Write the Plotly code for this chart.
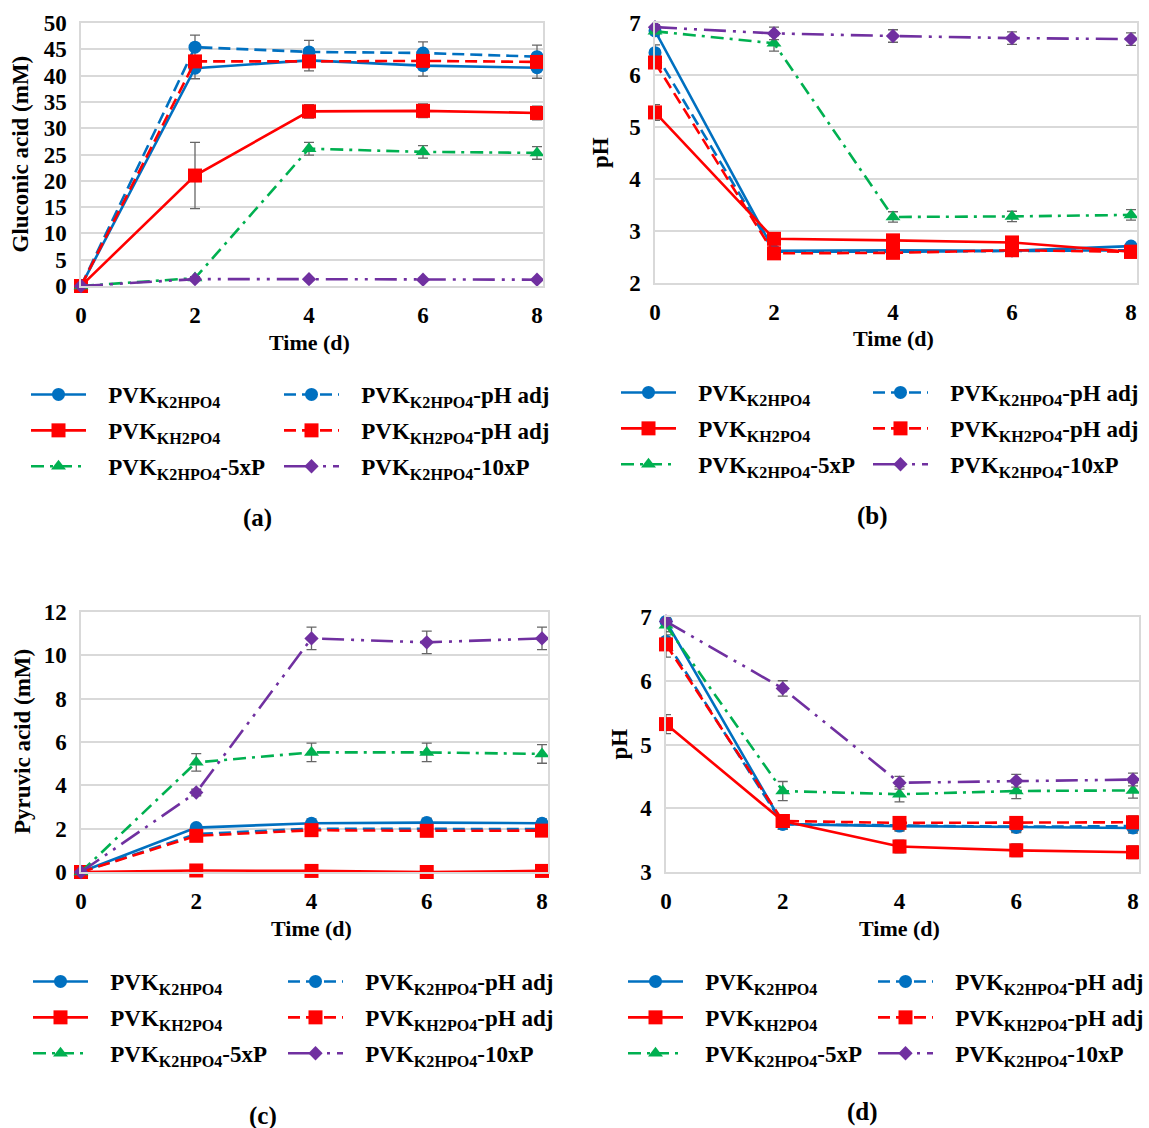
import plotly.graph_objects as go

W, H = 1149, 1128

# ---------------- data ----------------
time_d = [0, 2, 4, 6, 8]
series_names = [
    "PVK<sub>K2HPO4</sub>",
    "PVK<sub>K2HPO4</sub>-pH adj",
    "PVK<sub>KH2PO4</sub>",
    "PVK<sub>KH2PO4</sub>-pH adj",
    "PVK<sub>K2HPO4</sub>-5xP",
    "PVK<sub>K2HPO4</sub>-10xP",
]

# (a) gluconic acid (mM)
glu_k2hpo4 = [0.0, 41.4, 42.9, 41.9, 41.5]
glu_k2hpo4_adj = [0.0, 45.4, 44.5, 44.3, 43.6]
glu_kh2po4 = [0.0, 21.0, 33.2, 33.3, 32.9]
glu_kh2po4_adj = [0.0, 42.7, 42.7, 42.8, 42.6]
glu_5xp = [0.0, 1.5, 26.1, 25.5, 25.3]
glu_10xp = [0.0, 1.3, 1.3, 1.2, 1.2]
glu_err_k2hpo4 = [0.0, 2.0, 2.0, 2.0, 2.0]
glu_err_k2hpo4_adj = [0.0, 2.3, 2.2, 2.1, 2.2]
glu_err_kh2po4 = [0.0, 6.3, 1.3, 1.3, 1.3]
glu_err_kh2po4_adj = [0.0, 0.5, 0.5, 0.5, 0.5]
glu_err_5xp = [0.0, 0.3, 1.2, 1.2, 1.2]
glu_err_10xp = [0.0, 0.2, 0.2, 0.2, 0.2]

# (b) pH (gluconic experiment)
phb_k2hpo4 = [6.85, 2.62, 2.63, 2.62, 2.71]
phb_k2hpo4_adj = [6.43, 2.60, 2.60, 2.62, 2.63]
phb_kh2po4 = [5.28, 2.85, 2.82, 2.78, 2.60]
phb_kh2po4_adj = [6.24, 2.57, 2.58, 2.63, 2.60]
phb_5xp = [6.84, 6.61, 3.27, 3.28, 3.31]
phb_10xp = [6.92, 6.80, 6.75, 6.71, 6.69]
phb_err_k2hpo4 = [0.10, 0.05, 0.05, 0.05, 0.05]
phb_err_k2hpo4_adj = [0.15, 0.05, 0.05, 0.05, 0.05]
phb_err_kh2po4 = [0.15, 0.05, 0.05, 0.05, 0.05]
phb_err_kh2po4_adj = [0.10, 0.05, 0.05, 0.05, 0.05]
phb_err_5xp = [0.05, 0.15, 0.10, 0.10, 0.10]
phb_err_10xp = [0.05, 0.12, 0.12, 0.12, 0.12]

# (c) pyruvic acid (mM)
pyr_k2hpo4 = [0.0, 2.05, 2.25, 2.28, 2.25]
pyr_k2hpo4_adj = [0.0, 1.75, 2.00, 2.00, 1.98]
pyr_kh2po4 = [0.0, 0.07, 0.05, 0.0, 0.05]
pyr_kh2po4_adj = [0.0, 1.67, 1.93, 1.90, 1.91]
pyr_5xp = [0.0, 5.06, 5.52, 5.52, 5.45]
pyr_10xp = [0.0, 3.67, 10.78, 10.60, 10.78]
pyr_err_k2hpo4 = [0.0, 0.10, 0.20, 0.20, 0.20]
pyr_err_k2hpo4_adj = [0.0, 0.10, 0.10, 0.10, 0.10]
pyr_err_kh2po4 = [0.0, 0.02, 0.02, 0.02, 0.02]
pyr_err_kh2po4_adj = [0.0, 0.10, 0.10, 0.10, 0.10]
pyr_err_5xp = [0.0, 0.40, 0.43, 0.43, 0.43]
pyr_err_10xp = [0.0, 0.15, 0.52, 0.52, 0.52]

# (d) pH (pyruvic experiment)
phd_k2hpo4 = [6.93, 3.75, 3.72, 3.70, 3.69]
phd_k2hpo4_adj = [6.62, 3.75, 3.73, 3.71, 3.72]
phd_kh2po4 = [5.32, 3.80, 3.40, 3.34, 3.31]
phd_kh2po4_adj = [6.57, 3.80, 3.77, 3.77, 3.78]
phd_5xp = [6.87, 4.27, 4.22, 4.27, 4.28]
phd_10xp = [6.93, 5.88, 4.40, 4.43, 4.45]
phd_err_k2hpo4 = [0.05, 0.08, 0.08, 0.08, 0.08]
phd_err_k2hpo4_adj = [0.10, 0.08, 0.08, 0.08, 0.08]
phd_err_kh2po4 = [0.15, 0.10, 0.10, 0.10, 0.10]
phd_err_kh2po4_adj = [0.20, 0.10, 0.10, 0.10, 0.10]
phd_err_5xp = [0.10, 0.15, 0.12, 0.12, 0.12]
phd_err_10xp = [0.05, 0.12, 0.10, 0.10, 0.10]

# ---------------- styles ----------------
colors = ["#0070C0", "#0070C0", "#FF0000", "#FF0000", "#00B050", "#7030A0"]
dashes = ["solid", "12px,6px", "solid", "12px,6px", "13px,6px,3px,6px", "22px,7px,3px,7px,3px,7px"]
symbols = ["circle", "circle", "square", "square", "triangle-up", "diamond"]
msizes = [13, 13, 14, 14, 13, 11]

FONT = "Liberation Serif"
PAD = "\u00a0\u00a0\u00a0"

panels = [
    dict(ys=[glu_k2hpo4, glu_k2hpo4_adj, glu_kh2po4, glu_kh2po4_adj, glu_5xp, glu_10xp],
         es=[glu_err_k2hpo4, glu_err_k2hpo4_adj, glu_err_kh2po4, glu_err_kh2po4_adj, glu_err_5xp, glu_err_10xp],
         px=(81, 537), py=(23, 286), yr=(0, 50), dt=5, ytitle="Gluconic acid (mM)",
         ytx=20, xty=342, lab="(a)", labxy=(257, 518), leg=((26, 373), (279, 373))),
    dict(ys=[phb_k2hpo4, phb_k2hpo4_adj, phb_kh2po4, phb_kh2po4_adj, phb_5xp, phb_10xp],
         es=[phb_err_k2hpo4, phb_err_k2hpo4_adj, phb_err_kh2po4, phb_err_kh2po4_adj, phb_err_5xp, phb_err_10xp],
         px=(655, 1131), py=(23, 283), yr=(2, 7), dt=1, ytitle="pH",
         ytx=601, xty=339, lab="(b)", labxy=(872, 516), leg=((616, 371), (868, 371))),
    dict(ys=[pyr_k2hpo4, pyr_k2hpo4_adj, pyr_kh2po4, pyr_kh2po4_adj, pyr_5xp, pyr_10xp],
         es=[pyr_err_k2hpo4, pyr_err_k2hpo4_adj, pyr_err_kh2po4, pyr_err_kh2po4_adj, pyr_err_5xp, pyr_err_10xp],
         px=(81, 542), py=(612, 872), yr=(0, 12), dt=2, ytitle="Pyruvic acid (mM)",
         ytx=22, xty=928, lab="(c)", labxy=(263, 1116), leg=((28, 960), (283, 960))),
    dict(ys=[phd_k2hpo4, phd_k2hpo4_adj, phd_kh2po4, phd_kh2po4_adj, phd_5xp, phd_10xp],
         es=[phd_err_k2hpo4, phd_err_k2hpo4_adj, phd_err_kh2po4, phd_err_kh2po4_adj, phd_err_5xp, phd_err_10xp],
         px=(666, 1133), py=(617, 872), yr=(3, 7), dt=1, ytitle="pH",
         ytx=619, xty=928, lab="(d)", labxy=(862, 1112), leg=((623, 960), (873, 960))),
]

fig = go.Figure()
annotations = []
layout_upd = {}

for pi, p in enumerate(panels):
    n = pi + 1
    xa = "x" if n == 1 else f"x{n}"
    ya = "y" if n == 1 else f"y{n}"
    xkey = "xaxis" if n == 1 else f"xaxis{n}"
    ykey = "yaxis" if n == 1 else f"yaxis{n}"
    leg_a = "legend" if n == 1 else f"legend{2 * n - 1}"
    leg_b = f"legend{2 * n}"

    x0, x8 = p["px"]
    ppu = (x8 - x0) / 8.0
    xmax = 8.1
    right = x0 + ppu * xmax
    ytop, ybot = p["py"]

    layout_upd[xkey] = dict(
        domain=[x0 / W, right / W], range=[0, xmax], anchor=ya,
        tickvals=time_d, ticktext=[str(v) for v in time_d],
        showgrid=False, zeroline=False, showline=True, mirror=True,
        linecolor="#D9D9D9", linewidth=1.5, ticks="",
        tickfont=dict(family=FONT, size=23, color="black", weight="bold"),
        ticklabelstandoff=8,
    )
    layout_upd[ykey] = dict(
        domain=[1 - ybot / H, 1 - ytop / H], range=list(p["yr"]), anchor=xa,
        dtick=p["dt"], tick0=p["yr"][0],
        showgrid=True, gridcolor="#D9D9D9", gridwidth=1.5, zeroline=False,
        showline=True, mirror=True, linecolor="#D9D9D9", linewidth=1.5, ticks="",
        tickfont=dict(family=FONT, size=23, color="black", weight="bold"),
        ticklabelstandoff=8,
    )

    for si in range(6):
        fig.add_trace(go.Scatter(
            x=time_d, y=p["ys"][si], xaxis=xa, yaxis=ya,
            name=PAD + series_names[si],
            mode="lines+markers",
            line=dict(color=colors[si], width=2.6, dash=dashes[si]),
            marker=dict(symbol=symbols[si], size=msizes[si], color=colors[si]),
            error_y=dict(type="data", array=p["es"][si], visible=True,
                         color="#666666", thickness=1.3, width=5),
            cliponaxis=False,
            legend=leg_a if si % 2 == 0 else leg_b,
            legendgroup=f"p{n}s{si}",
            showlegend=True,
        ))

    for li, lk in enumerate([leg_a, leg_b]):
        lx, ly = p["leg"][li]
        layout_upd[lk] = dict(
            x=lx / W, y=1 - ly / H, xanchor="left", yanchor="top",
            xref="paper", yref="paper",
            orientation="v", traceorder="grouped", tracegroupgap=3,
            itemwidth=55, bgcolor="rgba(0,0,0,0)", borderwidth=0,
            font=dict(family=FONT, size=23, color="black", weight="bold"),
        )

    # axis titles and panel labels
    annotations.append(dict(
        text="Time (d)", x=(x0 + x8) / 2 / W, y=1 - p["xty"] / H, xref="paper", yref="paper",
        showarrow=False, xanchor="center", yanchor="middle",
        font=dict(family=FONT, size=22, color="black", weight="bold")))
    annotations.append(dict(
        text=p["ytitle"], x=p["ytx"] / W, y=1 - ((ytop + ybot) / 2) / H, xref="paper", yref="paper",
        showarrow=False, xanchor="center", yanchor="middle", textangle=-90,
        font=dict(family=FONT, size=23, color="black", weight="bold")))
    annotations.append(dict(
        text=p["lab"], x=p["labxy"][0] / W, y=1 - p["labxy"][1] / H, xref="paper", yref="paper",
        showarrow=False, xanchor="center", yanchor="middle",
        font=dict(family=FONT, size=25, color="black", weight="bold")))

fig.update_layout(
    width=W, height=H, margin=dict(l=0, r=0, t=0, b=0, autoexpand=False),
    paper_bgcolor="white", plot_bgcolor="white",
    annotations=annotations, **layout_upd,
)

fig.write_html("out.html")
